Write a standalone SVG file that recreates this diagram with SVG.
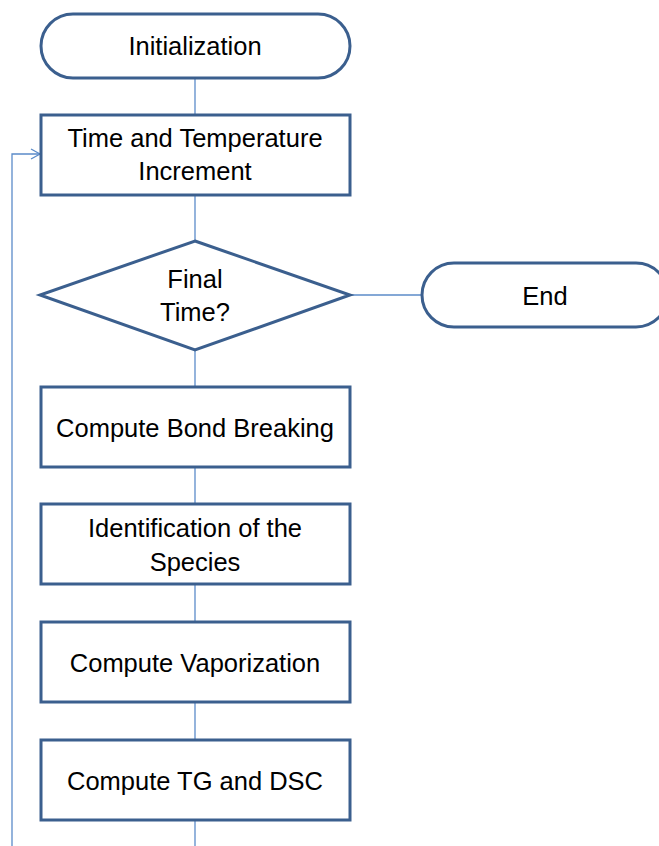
<svg xmlns="http://www.w3.org/2000/svg" width="659" height="846" viewBox="0 0 659 846">
<style>
.n{fill:#fff;stroke:#3b5f8e;stroke-width:3}
.c{fill:none;stroke:#5b8bc9;stroke-width:1.3}
text{font-family:"Liberation Sans",Arial,sans-serif;font-size:25.5px;fill:#000;text-anchor:middle}
</style>
<defs>
<marker id="a" markerWidth="12" markerHeight="12" refX="10" refY="6" orient="auto" markerUnits="userSpaceOnUse">
<path d="M1,1 L10,6 L1,11" fill="none" stroke="#5b8bc9" stroke-width="1.3"/>
</marker>
</defs>
<g id="connectors">
<line class="c" x1="195" y1="78" x2="195" y2="115"/>
<line class="c" x1="195" y1="195" x2="195" y2="241"/>
<line class="c" x1="350" y1="295" x2="422" y2="295"/>
<line class="c" x1="195" y1="350" x2="195" y2="387"/>
<line class="c" x1="195" y1="467" x2="195" y2="504"/>
<line class="c" x1="195" y1="584" x2="195" y2="622"/>
<line class="c" x1="195" y1="702" x2="195" y2="740"/>
<line class="c" x1="195" y1="820" x2="195" y2="846"/>
<polyline class="c" points="12,846 12,154 40,154" marker-end="url(#a)"/>
</g>
<g id="init">
<rect class="n" x="41" y="14" width="309" height="64" rx="32"/>
<text x="195" y="55">Initialization</text>
</g>
<g id="increment">
<rect class="n" x="41" y="115" width="309" height="80"/>
<text x="195" y="147">Time and Temperature</text>
<text x="195" y="180">Increment</text>
</g>
<g id="decision">
<polygon class="n" points="195,241 350,295 195,350 40,295"/>
<text x="195" y="288">Final</text>
<text x="195" y="321">Time?</text>
</g>
<g id="end">
<rect class="n" x="422" y="263" width="246" height="64" rx="32"/>
<text x="545" y="305">End</text>
</g>
<g id="bond">
<rect class="n" x="41" y="387" width="309" height="80"/>
<text x="195" y="437">Compute Bond Breaking</text>
</g>
<g id="species">
<rect class="n" x="41" y="504" width="309" height="80"/>
<text x="195" y="537">Identification of the</text>
<text x="195" y="571">Species</text>
</g>
<g id="vapor">
<rect class="n" x="41" y="622" width="309" height="80"/>
<text x="195" y="672">Compute Vaporization</text>
</g>
<g id="tgdsc">
<rect class="n" x="41" y="740" width="309" height="80"/>
<text x="195" y="790">Compute TG and DSC</text>
</g>
</svg>
